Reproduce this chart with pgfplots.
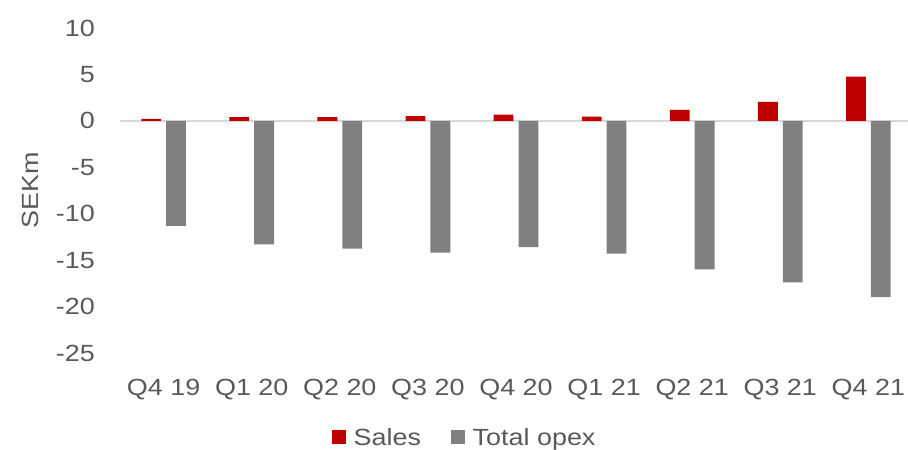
\documentclass[border=0pt]{standalone}
\usepackage{fontspec}
\setmainfont{Liberation Sans}[FakeStretch=1.15]
\usepackage{pgfplots}
\pgfplotsset{compat=1.18}
\definecolor{salesred}{HTML}{C00000}
\definecolor{opexgray}{HTML}{808080}
\definecolor{txtgray}{HTML}{595959}
\definecolor{zerogray}{HTML}{D9D9D9}
\begin{document}
\begin{tikzpicture}
\useasboundingbox (0,0) rectangle (908bp,450bp);
\begin{axis}[
  at={(119.6bp,97bp)}, anchor=south west,
  scale only axis, width=788.4bp, height=325bp,
  xmin=-0.5, xmax=8.45, ymin=-25, ymax=10,
  axis line style={draw=none},
  tick style={draw=none},
  font=\fontsize{23.5}{28}\selectfont,
  ytick={-25,-20,-15,-10,-5,0,5,10},
  yticklabels={-25,-20,-15,-10,-5,0,5,10},
  xtick={0,1,2,3,4,5,6,7,8},
  xticklabels={Q4 19,Q1 20,Q2 20,Q3 20,Q4 20,Q1 21,Q2 21,Q3 21,Q4 21},
  yticklabel style={text=txtgray, inner sep=0pt, anchor=east, xshift=-24.6bp},
  xticklabel style={text=txtgray, inner sep=0pt, anchor=north, yshift=-22bp},
  ylabel={SEKm},
  ylabel style={text=txtgray, at={(axis description cs:-0.1137,0.5)}, anchor=center},
  extra y ticks={0}, extra y tick labels={},
  extra y tick style={grid=major, major grid style={zerogray, line width=2.7bp}},
  ybar, bar width=0.225,
  legend style={draw=none, fill=none, inner sep=0pt, legend columns=2,
    at={(axis description cs:0.4365,-0.258)}, anchor=center,
    text=txtgray, font=\fontsize{23.5}{28}\selectfont,
    /tikz/every even column/.append style={column sep=30bp},
    nodes={inner sep=0pt, text depth=0pt}},
  legend image code/.code={\fill[#1] (0bp,-7bp) rectangle (14bp,7bp);},
  legend cell align=left,
]
\addplot[fill=salesred, draw=none, bar shift=-0.141] coordinates {
 (0,0.2) (1,0.4) (2,0.4) (3,0.5) (4,0.68) (5,0.46) (6,1.19) (7,2.05) (8,4.75)};
\addlegendentry{\hspace{7.7bp}Sales}
\addplot[fill=opexgray, draw=none, bar shift=0.141] coordinates {
 (0,-11.3) (1,-13.3) (2,-13.75) (3,-14.2) (4,-13.6) (5,-14.3) (6,-16.0) (7,-17.4) (8,-18.97)};
\addlegendentry{\hspace{7.7bp}Total opex}
\end{axis}
\end{tikzpicture}
\end{document}
